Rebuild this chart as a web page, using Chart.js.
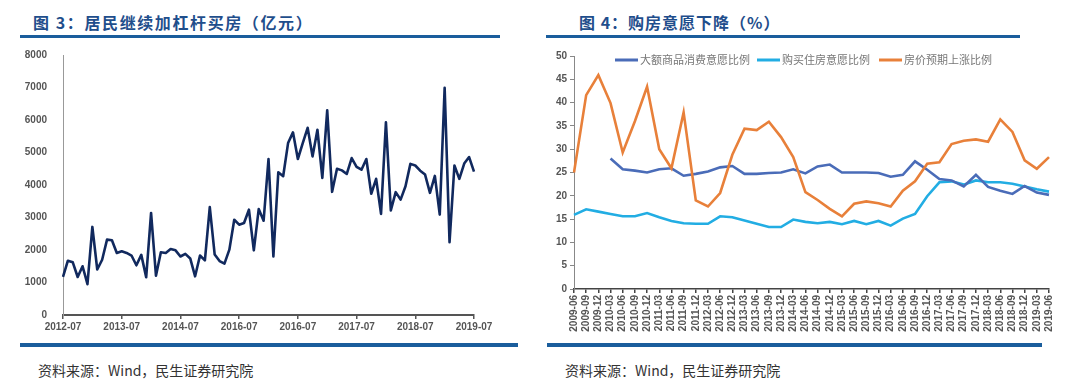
<!DOCTYPE html>
<html><head><meta charset="utf-8">
<script src="https://cdn.jsdelivr.net/npm/chart.js@4.4.1/dist/chart.umd.min.js"></script>
<style>
html,body{margin:0;padding:0;background:#fff;width:1080px;height:388px;overflow:hidden;position:relative;font-family:"Noto Sans CJK SC",sans-serif;}
.title{position:absolute;top:10px;font-size:16px;font-weight:700;color:#1f4e8c;letter-spacing:1.6px;white-space:nowrap;}
.rule{position:absolute;height:3px;background:#1a5d9c;}
.foot{position:absolute;height:4px;background:#1a5d9c;}
.src{position:absolute;top:360px;font-size:14px;color:#333;white-space:nowrap;}
.box{position:absolute;top:0;width:540px;height:345px;}
</style></head>
<body>
<div class="title" style="left:33px">图 3：居民继续加杠杆买房（亿元）</div>
<div class="rule" style="left:20px;width:480px;top:35px"></div>
<div class="title" style="left:579px;letter-spacing:1px">图 4：购房意愿下降（%）</div>
<div class="rule" style="left:546px;width:474px;top:35px"></div>
<div class="box" style="left:0"><canvas id="c1" width="540" height="345"></canvas></div>
<div class="box" style="left:540px"><canvas id="c2" width="540" height="345"></canvas></div>
<div class="foot" style="left:20px;width:498px;top:343px"></div>
<div class="foot" style="left:547px;width:495px;top:343px"></div>
<div class="src" style="left:38px">资料来源：Wind，民生证券研究院</div>
<div class="src" style="left:565px">资料来源：Wind，民生证券研究院</div>
<script>
// ---- Chart 3 data ----
const leftTickLabels = ['2012-07','2013-07','2014-07','2016-07','2016-07','2017-07','2018-07','2019-07'];
const leftCategories = [];
for (let y = 2012, m = 7; y < 2019 || (y === 2019 && m <= 7); ) {
  leftCategories.push(y + '-' + String(m).padStart(2,'0'));
  m++; if (m > 12) { m = 1; y++; }
}
const leverageValues = [1170,1670,1620,1170,1500,950,2710,1400,1700,2320,2300,1910,
1960,1910,1830,1530,1850,1160,3140,1210,1930,1910,2030,1990,
1800,1880,1740,1190,1830,1680,3320,1860,1660,1580,2010,2930,
2780,2830,3240,1990,3260,2900,4800,1800,4390,4270,5290,5620,
4800,5290,5760,4880,5700,4220,6300,3790,4500,4450,4340,4830,
4560,4470,4800,3730,4190,3110,5930,3220,3780,3550,3960,4650,
4600,4440,4320,3760,4280,3090,6990,2240,4600,4190,4660,4860,
4410];

// ---- Chart 4 data ----
const rightCategories = ['2009-06','2009-09','2009-12','2010-03','2010-06','2010-09','2010-12','2011-03','2011-06','2011-09','2011-12','2012-03','2012-06','2012-12','2013-03','2013-06','2013-09','2013-12','2014-03','2014-06','2014-09','2014-12','2015-03','2015-06','2015-09','2015-12','2016-03','2016-06','2016-09','2016-12','2017-03','2017-06','2017-09','2017-12','2018-03','2018-06','2018-09','2018-12','2019-03','2019-06'];
const bigGoodsWill = [null,null,null,28.0,25.7,25.4,25.0,25.7,25.9,24.3,24.7,25.2,26.1,26.4,24.7,24.7,24.9,25.0,25.7,24.8,26.3,26.7,25.0,25.0,25.0,24.9,24.1,24.5,27.4,25.6,23.6,23.3,22.0,24.5,21.9,21.1,20.4,22.1,20.7,20.2];
const houseBuyWill = [15.9,17.1,16.6,16.1,15.6,15.6,16.3,15.4,14.6,14.1,14.0,14.0,15.6,15.4,14.7,14.0,13.3,13.3,14.9,14.4,14.1,14.4,13.9,14.6,13.9,14.6,13.6,15.1,16.1,19.9,22.9,23.1,22.4,23.3,22.9,22.9,22.6,22.0,21.4,20.9];
const priceUpExpect = [25.0,41.6,45.9,39.9,29.3,36.0,43.4,30.0,25.9,37.9,19.0,17.7,20.6,28.8,34.4,34.1,35.9,32.6,28.3,20.8,19.1,17.2,15.6,18.3,18.8,18.4,17.7,21.1,23.1,26.9,27.2,31.1,31.8,32.1,31.6,36.4,33.7,27.6,25.8,28.3];
const seriesNames = ['大额商品消费意愿比例','购买住房意愿比例','房价预期上涨比例'];

const tickFont = {family:'"Liberation Sans", Arial, sans-serif', size:10, weight:'bold'};

new Chart(document.getElementById('c1'), {
  type:'line',
  data:{labels:leftCategories, datasets:[{data:leverageValues, borderColor:'#11295e', borderWidth:2.6, pointRadius:0, tension:0, borderJoinStyle:'round'}]},
  options:{
    responsive:false, animation:false,
    layout:{padding:{left:0,right:66,top:55,bottom:0}},
    plugins:{legend:{display:false}, tooltip:{enabled:false}},
    scales:{
      x:{
        afterFit:s=>{s.height=30;},
        grid:{display:true, drawOnChartArea:false, drawTicks:true, tickLength:4, color:'#555', lineWidth:1.5},
        border:{display:true, color:'#555', width:2},
        ticks:{autoSkip:false, maxRotation:0, minRotation:0, color:'#555', font:tickFont, padding:2,
          callback:(v,i)=> i%12===0 ? leftTickLabels[i/12] : null}
      },
      y:{
        min:0, max:8000,
        afterFit:s=>{s.width=63;},
        grid:{display:false},
        border:{display:true, color:'#999', width:1},
        ticks:{stepSize:1000, color:'#555', font:tickFont, padding:8, callback:v=>String(v)}
      }
    }
  }
});

const legendPlugin = {
  id:'inlineLegend',
  afterDraw(chart){
    const ctx = chart.ctx;
    const pos = [75, 217, 339];
    ctx.save();
    ctx.font = '11px "Noto Sans CJK SC", sans-serif';
    ctx.textBaseline = 'middle';
    chart.data.datasets.forEach((ds,i)=>{
      const x = pos[i], y = 60;
      ctx.strokeStyle = ds.borderColor; ctx.lineWidth = 3;
      ctx.beginPath(); ctx.moveTo(x,y); ctx.lineTo(x+23,y); ctx.stroke();
      ctx.fillStyle = '#777';
      ctx.fillText(ds.label, x+25, y);
    });
    ctx.restore();
  }
};

new Chart(document.getElementById('c2'), {
  type:'line',
  data:{labels:rightCategories, datasets:[
    {label:seriesNames[0], data:bigGoodsWill, borderColor:'#4a6cb8', borderWidth:2.6, pointRadius:0, tension:0, order:2},
    {label:seriesNames[1], data:houseBuyWill, borderColor:'#22ade3', borderWidth:2.6, pointRadius:0, tension:0, order:3},
    {label:seriesNames[2], data:priceUpExpect, borderColor:'#e8803a', borderWidth:2.6, pointRadius:0, tension:0, order:1}
  ]},
  options:{
    responsive:false, animation:false,
    layout:{padding:{left:0,right:31,top:56,bottom:0}},
    plugins:{legend:{display:false}, tooltip:{enabled:false}},
    scales:{
      x:{
        afterFit:s=>{s.height=56;},
        grid:{display:true, drawOnChartArea:false, drawTicks:true, tickLength:4, color:'#444', lineWidth:1.5},
        border:{display:true, color:'#444', width:1.5},
        ticks:{autoSkip:false, maxRotation:90, minRotation:90, color:'#555', font:tickFont, padding:2}
      },
      y:{
        min:0, max:50,
        afterFit:s=>{s.width=34;},
        grid:{display:true, drawOnChartArea:false, drawTicks:true, tickLength:4, color:'#888'},
        border:{display:true, color:'#888', width:1},
        ticks:{stepSize:5, color:'#555', font:tickFont, padding:3}
      }
    }
  },
  plugins:[legendPlugin]
});
</script>
</body></html>
